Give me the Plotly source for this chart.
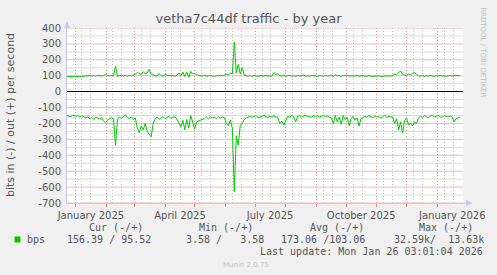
import pandas as pd
import plotly.graph_objects as go

# ---------------- data ----------------
start_date = "2024-12-22"
step_days = 2

out_bps = [
    93, 95, 94, 96, 93, 97, 95, 94, 98, 96,
    100, 98, 103, 99, 101, 97, 102, 100, 99, 101,
    108, 102, 99, 101, 100, 160, 96, 100, 104, 99,
    102, 97, 103, 99, 104, 110, 120, 112, 106, 125,
    113, 118, 139, 110, 104, 100, 98, 114, 100, 97,
    108, 101, 99, 104, 100, 97, 102, 118, 100, 123,
    95, 124, 90, 128, 110, 115, 105, 104, 100, 98,
    103, 96, 100, 102, 97, 95, 101, 99, 103, 100,
    104, 108, 105, 115, 112, 310, 118, 171, 112, 150,
    104, 100, 98, 100, 97, 102, 99, 96, 101, 100,
    98, 103, 99, 100, 97, 120, 108, 112, 100, 98,
    104, 97, 101, 103, 98, 100, 96, 102, 99, 101,
    104, 98, 100, 97, 103, 99, 100, 96, 101, 100,
    98, 102, 97, 100, 104, 97, 106, 99, 102, 95,
    103, 100, 105, 98, 101, 100, 98, 102, 97, 99,
    101, 96, 98, 100, 97, 95, 99, 96, 100, 98,
    94, 99, 97, 100, 96, 103, 110, 106, 118, 131,
    108, 104, 100, 110, 106, 115, 120, 108, 100, 98,
    101, 96, 100, 97, 102, 99, 95, 100, 98, 103,
    97, 100, 96, 99, 102, 98, 101, 104, 100, 99,
]

in_bps = [
    155, 150, 158, 152, 148, 156, 150, 160, 153, 158,
    165, 158, 170, 162, 175, 160, 168, 172, 165, 185,
    195, 178, 170, 165, 172, 337, 175, 160, 168, 155,
    148, 162, 170, 158, 175, 165, 230, 258, 215, 240,
    200, 250, 270, 285, 200, 170, 160, 175, 165, 158,
    170, 162, 155, 168, 160, 158, 172, 200, 221, 180,
    240, 175, 230, 150, 190, 235, 190, 185, 180, 175,
    168, 160, 172, 158, 165, 162, 170, 158, 166, 160,
    165, 200, 215, 180, 230, 630, 280, 337, 210, 200,
    175, 165, 160, 155, 162, 158, 150, 165, 160, 155,
    150, 158, 162, 155, 160, 152, 158, 165, 200, 185,
    210, 180, 155, 160, 152, 158, 190, 155, 150, 160,
    153, 148, 158, 155, 162, 150, 157, 152, 160, 155,
    150, 158, 153, 160, 165, 200, 150, 190, 160, 205,
    150, 175, 160, 215, 170, 155, 180, 165, 216, 170,
    160, 155, 162, 150, 158, 165, 152, 160, 155, 168,
    158, 150, 162, 155, 160, 158, 200, 170, 240, 190,
    260, 180, 165, 210, 200, 215, 190, 200, 165, 155,
    162, 150, 158, 165, 152, 148, 160, 155, 150, 158,
    162, 150, 155, 160, 152, 158, 190, 170, 165, 160,
]

x_range = ["2024-12-23", "2026-01-27"]
month_ticks = [
    "2025-01-01", "2025-02-01", "2025-03-01", "2025-04-01", "2025-05-01",
    "2025-06-01", "2025-07-01", "2025-08-01", "2025-09-01", "2025-10-01",
    "2025-11-01", "2025-12-01", "2026-01-01",
]
month_labels = [
    "January 2025", "", "", "April 2025", "", "", "July 2025", "", "",
    "October 2025", "", "", "January 2026",
]
minor_x_ticks = [
    "2025-01-07", "2025-01-16", "2025-02-07", "2025-02-16", "2025-03-08",
    "2025-03-17", "2025-04-08", "2025-04-17", "2025-05-08", "2025-05-17",
    "2025-06-08", "2025-06-17", "2025-07-08", "2025-07-17", "2025-08-08",
    "2025-08-17", "2025-09-08", "2025-09-17", "2025-10-08", "2025-10-17",
    "2025-11-08", "2025-11-17", "2025-12-08", "2025-12-17", "2026-01-08",
    "2026-01-17",
]
y_ticks = [400, 300, 200, 100, 0, -100, -200, -300, -400, -500, -600, -700]
y_labels = ["400", "300", "200", "100", "0", "-100", "-200", "-300",
            "-400", "-500", "-600", "-700"]
y_minor_ticks = [350, 250, 150, 50, -50, -150, -250, -350, -450, -550, -650]

title_text = "vetha7c44df traffic - by year"
y_title = "bits in (-) / out (+) per second"
legend_name = "bps"
col_heads = ["Cur (-/+)", "Min (-/+)", "Avg (-/+)", "Max (-/+)"]
col_values = ["156.39 / 95.52", "3.58 /   3.58", "173.06 /103.06", "32.59k/  13.63k"]
last_update = "Last update: Mon Jan 26 03:01:04 2026"
munin_ver = "Munin 2.0.75"
rrd_credit = "RRDTOOL / TOBI OETIKER"

assert len(out_bps) == len(in_bps)
dates = pd.date_range(start_date, periods=len(out_bps), freq=f"{step_days}D")

# ---------------- figure ----------------
W, H = 497, 275
L, R, T, B = 67, 30, 28, 72
PW, PH = W - L - R, H - T - B


def px(x):
    return (x - L) / PW


def py(y):
    return (H - B - y) / PH


GREEN = "#00cc00"
MAJ = "#e38a8a"
MIN = "#bcbcbc"
HMAJ = "#f0b8b8"
HMIN = "#dcdcdc"
AX = "#c8c8f4"
TXT = "#555555"
SANS = "DejaVu Sans"
MONO = "DejaVu Sans Mono"
DASH = "1px,2px"


def hgrid(values):
    xs, ys = [], []
    for v in values:
        if v == 0:
            continue
        xs += [x_range[0], x_range[1], None]
        ys += [v, v, None]
    return xs, ys


fig = go.Figure()
# horizontal grid (under the data), solid light lines
gx, gy = hgrid(y_minor_ticks)
fig.add_trace(go.Scatter(x=gx, y=gy, mode="lines", connectgaps=False,
                         line=dict(color=HMIN, width=1),
                         showlegend=False, hoverinfo="skip"))
gx, gy = hgrid(y_ticks)
fig.add_trace(go.Scatter(x=gx, y=gy, mode="lines", connectgaps=False,
                         line=dict(color=HMAJ, width=1),
                         showlegend=False, hoverinfo="skip"))
# data
fig.add_trace(go.Scatter(x=dates, y=out_bps, mode="lines",
                         line=dict(color=GREEN, width=1),
                         showlegend=False, hoverinfo="skip"))
fig.add_trace(go.Scatter(x=dates, y=[-v for v in in_bps], mode="lines",
                         line=dict(color=GREEN, width=1),
                         showlegend=False, hoverinfo="skip"))

fig.update_layout(
    width=W, height=H,
    margin=dict(l=L, r=R, t=T, b=B, pad=0),
    paper_bgcolor="#f0f0f0", plot_bgcolor="#ffffff",
    showlegend=False,
    title=dict(text=title_text, x=0.5, xref="container", xanchor="center",
               y=1 - 18.5 / H, yref="container", yanchor="middle",
               font=dict(family=SANS, size=13, color=TXT)),
    xaxis=dict(
        type="date", range=x_range,
        tickmode="array", tickvals=month_ticks, ticktext=month_labels,
        ticks="outside", ticklen=3, tickcolor=MAJ,
        ticklabelshift=15, ticklabelstandoff=0,
        tickfont=dict(family=SANS, size=10, color=TXT),
        showgrid=True, gridcolor=MAJ, griddash=DASH, gridwidth=1,
        minor=dict(tickmode="array", tickvals=minor_x_ticks,
                   showgrid=True, gridcolor=MIN, griddash=DASH, gridwidth=1),
        showline=True, linecolor=AX, linewidth=1,
        zeroline=False, fixedrange=True,
    ),
    yaxis=dict(
        range=[-700, 400],
        tickmode="array", tickvals=y_ticks, ticktext=y_labels,
        ticks="", ticklabelstandoff=3,
        tickfont=dict(family=SANS, size=10, color=TXT),
        showgrid=False,
        showline=True, linecolor=AX, linewidth=1,
        zeroline=True, zerolinecolor="#000000", zerolinewidth=1,
        fixedrange=True,
    ),
)

shapes = []
# axis arrows
shapes.append(dict(type="line", xref="paper", yref="paper",
                   x0=0, x1=0, y0=1, y1=py(23), line=dict(color=AX, width=1)))
shapes.append(dict(type="path", xref="paper", yref="paper",
                   path=f"M {px(64)},{py(28)} L {px(70)},{py(28)} L {px(67)},{py(21)} Z",
                   fillcolor=AX, line=dict(color=AX, width=0)))
shapes.append(dict(type="line", xref="paper", yref="paper",
                   x0=1, x1=px(472), y0=0, y1=0, line=dict(color=AX, width=1)))
shapes.append(dict(type="path", xref="paper", yref="paper",
                   path=f"M {px(470)},{py(200)} L {px(470)},{py(206)} L {px(477)},{py(203)} Z",
                   fillcolor=AX, line=dict(color=AX, width=0)))
# legend swatch
shapes.append(dict(type="rect", xref="paper", yref="paper",
                   x0=px(14), x1=px(20), y0=py(242.5), y1=py(236.5),
                   fillcolor=GREEN, line=dict(width=0)))
fig.update_layout(shapes=shapes)

ann = []


def text(t, x, y, font, size, color=TXT, anchor="left", angle=0):
    ann.append(dict(text=t, x=px(x), y=py(y), xref="paper", yref="paper",
                    xanchor=anchor, yanchor="middle", showarrow=False,
                    textangle=angle, borderpad=0,
                    font=dict(family=font, size=size, color=color)))


text(y_title, 10, 115.5, SANS, 11, anchor="center", angle=-90)
text(rrd_credit, 487, 52, SANS, 7, color="#c0c0c0", anchor="center", angle=90)
heads_x = [89, 200, 312, 423]
for h, x in zip(col_heads, heads_x):
    text(h, x - 1, 227.7, MONO, 10)
text(legend_name, 26, 239.5, MONO, 10)
vals_x = [66.5, 187, 283, 397]
for v, x in zip(col_values, vals_x):
    text(v, x - 1, 239.5, MONO, 10)
text(last_update, 260.5, 251.5, MONO, 10)
text(munin_ver, 248, 264.5, SANS, 7, color="#c8c8c8", anchor="center")
fig.update_layout(annotations=ann)

fig.write_html("out.html")
